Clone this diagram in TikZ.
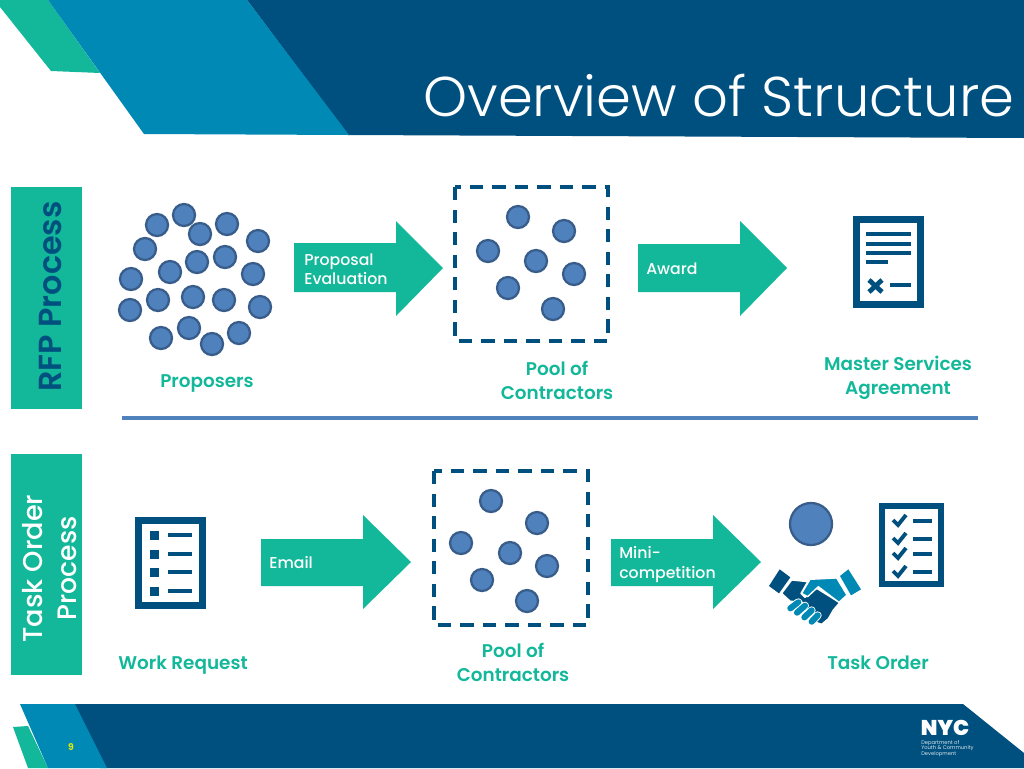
\documentclass[tikz,border=0pt]{standalone}
\usepackage{fontspec}
\setmainfont{Poppins}
\newfontfamily\titlefont{Poppins Light}
\newfontfamily\capfont{Poppins SemiBold}
\newfontfamily\medfont{Poppins Medium}
\newfontfamily\logofont{Poppins Black}
\usetikzlibrary{calc}
\definecolor{navy}{HTML}{00507F}
\definecolor{midblue}{HTML}{0089B5}
\definecolor{teal}{HTML}{12B899}
\definecolor{dotfill}{HTML}{4F81BD}
\definecolor{dotline}{HTML}{385D8A}
\tikzset{
  x=0.75pt,y=-0.75pt,
  dot/.style={circle,draw=dotline,fill=dotfill,line width=1.7pt,minimum size=16.5pt,inner sep=0pt},
  bigarrow/.style={fill=teal,draw=none},
  arrowlabel/.style={font=\medfont\fontsize{11.8}{14.5}\selectfont,text=white,anchor=west,align=left,inner sep=0pt},
  caption/.style={font=\capfont\fontsize{13.8}{18}\selectfont,text=teal,align=center,inner sep=0pt},
  poolbox/.style={draw=navy,line width=2.5pt,dash pattern=on 10pt off 6.9pt},
  sidebar/.style={fill=teal,draw=none},
  docframe/.style={draw=navy,line width=5.25pt,fill=white},
  bar/.style={draw=navy,line width=3pt},
  cuffdark/.style={fill=navy,draw=none},
  cufflight/.style={fill=midblue,draw=none},
  handdark/.style={fill=navy,draw=white,line width=1pt,line join=round},
  handlight/.style={fill=midblue,draw=white,line width=1pt,line join=round},
  fingerback/.style={draw=white,line width=6pt,line cap=round},
  finger/.style={draw=midblue,line width=4.6pt,line cap=round}
}
\begin{document}
\begin{tikzpicture}
\useasboundingbox (0,0) rectangle (1024,768);
\fill[white] (0,0) rectangle (1024,768);
% header
\fill[teal] (0,0) -- (48,0) -- (100,73) -- (51,71) -- (0,7) -- cycle;
\fill[navy] (247,0) -- (1024,0) -- (1024,138) -- (348,135) -- cycle;
\fill[midblue] (48,0) -- (247,0) -- (349,135) -- (144,134) -- cycle;
\node[font=\titlefont\fontsize{42}{50}\selectfont,text=white,anchor=base west,inner sep=0pt] (title) at (423,116.5) {Overview of Structure};
% footer
\fill[navy] (60,704) -- (963,704) -- (1024,753) -- (1024,768) -- (100,768) -- cycle;
\fill[teal] (13,727) -- (28,726) -- (48,768) -- (28,768) -- cycle;
\fill[midblue] (20,704) -- (75,704) -- (107,768) -- (48,768) -- cycle;
\node[font=\fontsize{7}{8}\selectfont\bfseries,text=yellow!85!green] (pagenum) at (71,747) {9};
\node[font=\logofont\fontsize{16}{16}\selectfont,text=white,inner sep=0pt,anchor=base] (nyc) at (945,735) {NYC};
\node[font=\fontsize{3.9}{4.2}\selectfont,text=white!85!navy,align=left,anchor=north west,inner sep=0pt] (dycd) at (921,740) {Department of\\Youth \& Community\\Development};
% side bars
\fill[sidebar] (11,187) rectangle (82,409);
\fill[sidebar] (11,454) rectangle (82,675);
\node[rotate=90,font=\capfont\fontsize{23.9}{24}\selectfont,text=navy,inner sep=0pt,anchor=base] (rfp) at (61,296.5) {RFP Process};
\node[rotate=90,font=\medfont\fontsize{20.4}{20}\selectfont,text=white,inner sep=0pt,anchor=base] (task1) at (42,568.5) {Task Order};
\node[rotate=90,font=\medfont\fontsize{20}{18}\selectfont,text=white,inner sep=0pt,anchor=base] (task2) at (76,568.5) {Process};
% divider
\draw[dotfill,line width=2.4pt] (122,418) -- (978,418);
% proposers
\foreach \n/\x/\y in {1/184/215,2/157/225,3/227/224,4/200/234,5/258/241,6/145/249,7/225/257,8/197/262,9/170/272,10/253/274,11/131/279,12/158/300,13/193/297,14/224/300,15/260/307,16/130/310,17/189/328,18/161/338,19/239/333,20/212/344}
  \node[dot] (p\n) at (\x,\y) {};
% pool boxes
\draw[poolbox] (455,187) rectangle (608,341);
\foreach \n/\x/\y in {1/518/217,2/564/231,3/488/251,4/536/261,5/574/274,6/508/288,7/553/309}
  \node[dot] (a\n) at (\x,\y) {};
\draw[poolbox] (434,471) rectangle (588,625);
\foreach \n/\x/\y in {1/491/501,2/537/523,3/461/543,4/510/553,5/547/566,6/482/580,7/527/601}
  \node[dot] (b\n) at (\x,\y) {};
% arrows
\fill[bigarrow] (294,243) -- (396,243) -- (396,221) -- (443,268) -- (396,316) -- (396,292) -- (294,292) -- cycle;
\fill[bigarrow] (638,244) -- (740,244) -- (740,221) -- (787,268) -- (740,316) -- (740,292) -- (638,292) -- cycle;
\fill[bigarrow] (261,539) -- (363,539) -- (363,515) -- (411,562) -- (363,609) -- (363,586) -- (261,586) -- cycle;
\fill[bigarrow] (611,539) -- (713,539) -- (713,515) -- (761,562) -- (713,609) -- (713,586) -- (611,586) -- cycle;
\node[arrowlabel] (l1) at (304,269) {Proposal\\Evaluation};
\node[arrowlabel] (l2) at (646,268.5) {Award};
\node[arrowlabel] (l3) at (269,562.5) {Email};
\node[arrowlabel] (l4) at (619,564.5) {Mini-\\competition};
% captions
\node[caption] (c1) at (207,383) {Proposers};
\node[caption] (c2) at (557,380.5) {Pool of\\Contractors};
\node[caption] (c3) at (898,377.5) {Master Services\\Agreement};
\node[caption] (c4) at (183,665) {Work Request};
\node[caption] (c5) at (513,662) {Pool of\\Contractors};
\node[caption] (c6) at (878,663) {Task Order};
% MSA doc icon
\draw[docframe] (856.3,219.5) rectangle (920.5,304.5);
\foreach \y in {234,244,253} \draw[bar] (866,\y) -- (911,\y);
\draw[bar] (866,262) -- (888,262);
\draw[navy,line width=3.6pt] (869,280) -- (882,292) (882,280) -- (869,292);
\draw[bar] (890,285) -- (911,285);
% work request icon
\draw[docframe] (138.5,520.5) rectangle (202.5,605.5);
\foreach \y in {535,554,572,591} {
  \fill[navy] (150,\y-4.5) rectangle (159,\y+4.5);
  \draw[bar] (168,\y) -- (192,\y);
}
% person
\node[dot,minimum size=31.5pt] (person) at (811,524) {};
% checklist
\draw[docframe,line width=4.2pt] (881.8,505.8) rectangle (941.2,584.2);
\foreach \y in {520,538,553,571} {
  \draw[navy,line width=2.9pt] (893,\y) -- (898,\y+5) -- (906,\y-5);
  \draw[bar] (913,\y+1) -- (932,\y+1);
}
% handshake
\begin{scope}[shift={(765,560)},x=0.25pt,y=-0.25pt]
  \fill[cuffdark] (44,28) -- (76,52) -- (42,100) -- (12,78) -- cycle;
  \fill[cufflight] (250,28) -- (288,88) -- (258,106) -- (225,48) -- cycle;
  \draw[handdark] (80,60) -- (128,65) -- (108,100) -- (120,112) -- (155,85) -- (224,128) -- (205,150) -- (190,176) -- (170,193) -- (150,186) -- (110,125) -- (76,124) -- (50,100) -- cycle;
  \draw[handlight] (135,58) -- (215,54) -- (246,105) -- (222,127) -- (160,80) -- (128,110) -- (110,100) -- cycle;
  \foreach \a/\b/\c/\d in {76/145/100/127,96/158/120/137,118/172/140/151,140/185/158/166} {
    \draw[fingerback] (\a,\b) -- (\c,\d);
    \draw[finger] (\a,\b) -- (\c,\d);
  }
\end{scope}
\end{tikzpicture}
\end{document}
